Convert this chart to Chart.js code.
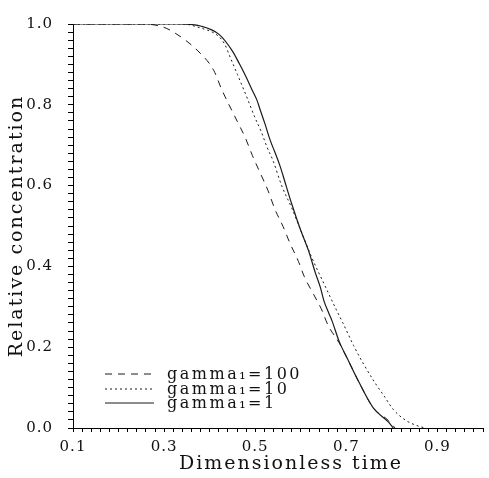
<!DOCTYPE html>
<html>
<head>
<meta charset="utf-8">
<script src="https://cdn.jsdelivr.net/npm/chart.js@4/dist/chart.umd.min.js"></script>
<style>
html,body{margin:0;padding:0;background:#fff;}
#wrap{width:489px;height:478px;position:relative;}
</style>
</head>
<body>
<div id="wrap"><canvas id="c"></canvas></div>
<script>
// ---- data ----
const seriesNames = ['gamma\u2081=100', 'gamma\u2081=10', 'gamma\u2081=1'];

const xG100 = [0.10, 0.25, 0.29, 0.316, 0.379, 0.409, 0.426, 0.461, 0.478, 0.494, 0.511, 0.528, 0.543, 0.561, 0.576, 0.595, 0.608, 0.628, 0.645, 0.660, 0.684, 0.703, 0.727, 0.759, 0.792, 0.807];
const yG100 = [1.00, 1.00, 0.995, 0.983, 0.928, 0.885, 0.839, 0.758, 0.719, 0.674, 0.631, 0.588, 0.542, 0.499, 0.458, 0.412, 0.374, 0.331, 0.295, 0.254, 0.211, 0.170, 0.115, 0.050, 0.019, 0.000];

const xG10 = [0.10, 0.34, 0.38, 0.418, 0.433, 0.446, 0.461, 0.483, 0.498, 0.513, 0.526, 0.539, 0.558, 0.580, 0.599, 0.623, 0.656, 0.677, 0.692, 0.716, 0.736, 0.764, 0.783, 0.803, 0.829, 0.850, 0.872];
const yG10 = [1.00, 1.00, 0.99, 0.971, 0.950, 0.915, 0.875, 0.815, 0.772, 0.734, 0.695, 0.662, 0.600, 0.545, 0.492, 0.425, 0.345, 0.295, 0.261, 0.204, 0.162, 0.110, 0.079, 0.046, 0.020, 0.008, 0.000];

const xG1 = [0.10, 0.33, 0.38, 0.42, 0.45, 0.465, 0.476, 0.494, 0.504, 0.511, 0.522, 0.532, 0.543, 0.554, 0.561, 0.569, 0.580, 0.599, 0.617, 0.632, 0.643, 0.651, 0.662, 0.669, 0.684, 0.703, 0.727, 0.759, 0.792, 0.803];
const yG1 = [1.00, 1.00, 0.995, 0.975, 0.933, 0.902, 0.878, 0.835, 0.811, 0.787, 0.751, 0.715, 0.683, 0.650, 0.625, 0.595, 0.555, 0.492, 0.439, 0.384, 0.348, 0.314, 0.283, 0.264, 0.215, 0.170, 0.115, 0.050, 0.015, 0.000];

const xMajorTicks = [0.1, 0.3, 0.5, 0.7, 0.9];
const yMajorTicks = [0.0, 0.2, 0.4, 0.6, 0.8, 1.0];

function pts(xs, ys){ return xs.map((x,i)=>({x:x, y:ys[i]})); }
function isIn(v, arr){ return arr.some(a => Math.abs(a - v) < 1e-6); }

const SERIF = '"DejaVu Serif", "Liberation Serif", serif';
const INK = '#111';

const legendPlugin = {
  id: 'insideLegend',
  afterDatasetsDraw(chart){
    const ctx = chart.ctx;
    const rows = [374, 389, 403];
    ctx.save();
    chart.data.datasets.forEach((ds, i) => {
      const y = rows[i];
      ctx.strokeStyle = ds.borderColor;
      ctx.lineWidth = ds.borderWidth;
      ctx.setLineDash(ds.borderDash || []);
      ctx.beginPath();
      ctx.moveTo(105, y);
      ctx.lineTo(154, y);
      ctx.stroke();
      ctx.setLineDash([]);
      ctx.fillStyle = INK;
      ctx.font = '16px ' + SERIF;
      ctx.letterSpacing = '2.5px';
      ctx.textBaseline = 'middle';
      ctx.textAlign = 'left';
      ctx.fillText(ds.label, 167, y + 1);
    });
    ctx.restore();
  }
};

const titleSpacingPlugin = {
  id: 'titleSpacing',
  beforeDraw(chart){
    chart.ctx.letterSpacing = '1px';
    ['x','y'].forEach(id => {
      const s = chart.scales[id];
      if (s && !s._spacedTitle) {
        const orig = s.drawTitle;
        s.drawTitle = function(){
          const c = this.ctx;
          c.save();
          c.letterSpacing = '2px';
          if (id === 'x') c.translate(13, 0);
          orig.apply(this, arguments);
          c.restore();
        };
        s._spacedTitle = true;
      }
    });
  },
  afterDraw(chart){ chart.ctx.letterSpacing = '0px'; }
};

new Chart(document.getElementById('c'), {
  type: 'line',
  data: {
    datasets: [
      { label: seriesNames[0], data: pts(xG100, yG100), borderColor: '#1a1a1a', borderWidth: 1, borderDash: [7, 6], pointRadius: 0, fill: false, cubicInterpolationMode: 'monotone' },
      { label: seriesNames[1], data: pts(xG10, yG10), borderColor: '#1a1a1a', borderWidth: 1, borderDash: [2, 3], pointRadius: 0, fill: false, cubicInterpolationMode: 'monotone' },
      { label: seriesNames[2], data: pts(xG1, yG1), borderColor: '#1a1a1a', borderWidth: 1.2, borderDash: [], pointRadius: 0, fill: false, cubicInterpolationMode: 'monotone' }
    ]
  },
  options: {
    responsive: true,
    maintainAspectRatio: false,
    animation: false,
    layout: { padding: { top: 11, right: 0, left: 0, bottom: 0 } },
    plugins: { legend: { display: false }, tooltip: { enabled: false } },
    scales: {
      x: {
        type: 'linear',
        min: 0.1, max: 1.0,
        afterFit(scale){ scale.height = 50; },
        border: { display: true, color: '#000', width: 1 },
        grid: { display: true, drawOnChartArea: false, drawTicks: true, tickLength: 4, color: '#000' },
        ticks: {
          stepSize: 0.02, autoSkip: false, maxRotation: 0, minRotation: 0, padding: 6,
          color: INK, font: { family: SERIF, size: 15 },
          callback: v => isIn(v, xMajorTicks) ? v.toFixed(1) : ''
        },
        title: { display: true, text: 'Dimensionless time', color: INK, font: { family: SERIF, size: 19 }, padding: { top: 0, bottom: 3 } }
      },
      y: {
        type: 'linear',
        min: 0, max: 1.0,
        afterFit(scale){ scale.width = 73; },
        border: { display: true, color: '#000', width: 1 },
        grid: { display: true, drawOnChartArea: false, drawTicks: true, tickLength: 5, color: '#000' },
        ticks: {
          stepSize: 0.02, autoSkip: false, padding: 15,
          color: INK, font: { family: SERIF, size: 15 },
          callback: v => isIn(v, yMajorTicks) ? v.toFixed(1) : ''
        },
        title: { display: true, text: 'Relative concentration', color: INK, font: { family: SERIF, size: 19 }, padding: { top: 6, bottom: 0 } }
      }
    }
  },
  plugins: [legendPlugin, titleSpacingPlugin]
});
</script>
</body>
</html>
